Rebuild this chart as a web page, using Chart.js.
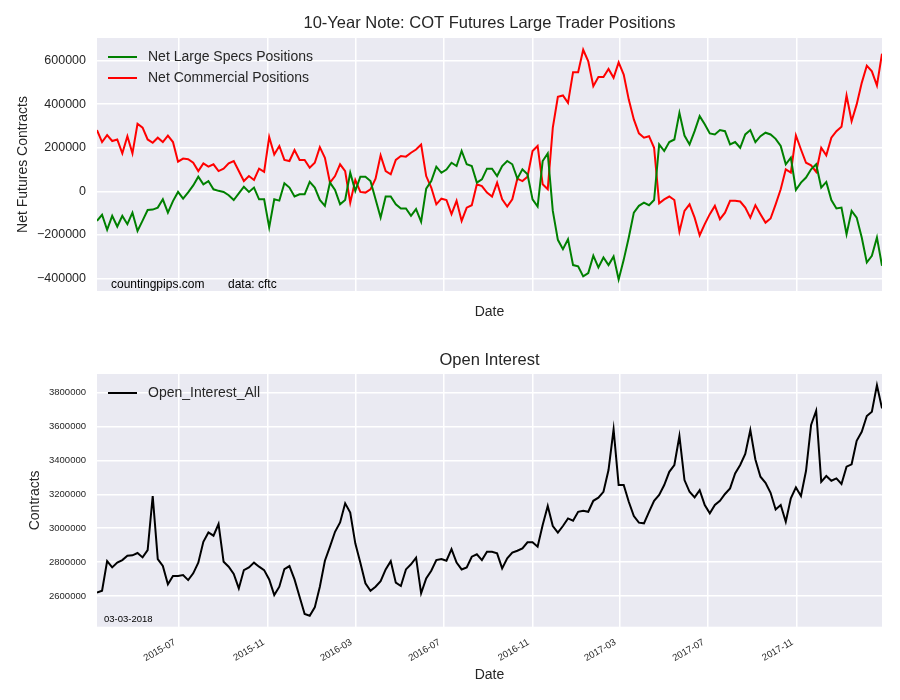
<!DOCTYPE html>
<html lang="en">
<head>
<meta charset="UTF-8">
<title>10-Year Note: COT Futures Large Trader Positions</title>
<script src="https://cdn.jsdelivr.net/npm/chart.js@4.4.1/dist/chart.umd.min.js"></script>
<style>
  body { margin: 0; background: #fff; }
  #wrap { position: relative; width: 900px; height: 700px; }
  #topChart { position: absolute; left: 0; top: 0; }
  #bottomChart { position: absolute; left: 0; top: 335px; }
</style>
</head>
<body>
<div id="wrap">
  <canvas id="topChart" width="900" height="335"></canvas>
  <canvas id="bottomChart" width="900" height="365"></canvas>
</div>

<script>
// weekly COT reports, first Tuesday in the window
const firstReport = '2015-03-10';

const largeSpecs = [
  -136000, -108000, -177000, -113000, -162000, -113000, -151000, -98000, -182000, -135000,
  -86000, -84000, -75000, -37000, -98000, -45000, -3000, -34000, -5000, 27000,
  67000, 32000, 47000, 9000, 2000, -3000, -18000, -40000, -10000, 21000,
  -3000, 17000, -37000, -37000, -166000, -37000, -43000, 37000, 17000, -24000,
  -14000, -14000, 43000, 17000, -40000, -67000, 40000, 6000, -60000, -40000,
  85000, 2000, 67000, 67000, 47000, -37000, -121000, -24000, -24000, -60000,
  -79000, -79000, -113000, -82000, -140000, 12000, 47000, 113000, 85000, 100000,
  131000, 116000, 185000, 124000, 116000, 40000, 55000, 104000, 104000, 70000,
  116000, 139000, 124000, 58000, 101000, 78000, -37000, -70000, 139000, 174000,
  -90000, -223000, -266000, -220000, -339000, -345000, -391000, -376000, -296000, -350000,
  -304000, -339000, -299000, -405000, -315000, -212000, -98000, -67000, -52000, -64000,
  -40000, 215000, 185000, 226000, 238000, 360000, 256000, 215000, 276000, 345000,
  308000, 266000, 261000, 281000, 276000, 215000, 226000, 200000, 261000, 281000,
  226000, 253000, 269000, 261000, 241000, 208000, 124000, 154000, 6000, 40000,
  63000, 101000, 124000, 17000, 43000, -40000, -79000, -75000, -197000, -90000,
  -121000, -212000, -327000, -296000, -212000, -342000
];

const commercials = [
  281000, 226000, 258000, 231000, 238000, 174000, 253000, 174000, 310000, 292000,
  238000, 223000, 246000, 226000, 256000, 226000, 136000, 150000, 147000, 131000,
  93000, 128000, 113000, 124000, 93000, 104000, 128000, 139000, 93000, 47000,
  70000, 52000, 104000, 89000, 249000, 169000, 208000, 144000, 139000, 189000,
  144000, 144000, 108000, 131000, 203000, 154000, 40000, 70000, 124000, 93000,
  -52000, 52000, -3000, -6000, 9000, 58000, 165000, 93000, 78000, 144000,
  162000, 159000, 177000, 192000, 215000, 70000, 17000, -60000, -34000, -40000,
  -105000, -44000, -136000, -75000, -64000, 32000, 24000, -6000, -24000, 40000,
  -37000, -70000, -37000, 58000, 47000, 67000, 185000, 208000, 32000, 9000,
  292000, 434000, 440000, 406000, 547000, 547000, 650000, 597000, 483000, 525000,
  525000, 562000, 521000, 592000, 536000, 421000, 330000, 266000, 246000, 253000,
  200000, -55000, -37000, -24000, -40000, -186000, -90000, -60000, -121000, -202000,
  -151000, -105000, -67000, -128000, -98000, -44000, -44000, -47000, -75000, -121000,
  -64000, -105000, -144000, -125000, -60000, 9000, 101000, 86000, 257000, 192000,
  131000, 119000, 89000, 200000, 165000, 246000, 276000, 296000, 440000, 322000,
  399000, 498000, 577000, 551000, 486000, 632000
];

const openInterest = [
  2620000, 2631000, 2806000, 2769000, 2797000, 2812000, 2838000, 2840000, 2854000, 2828000,
  2871000, 3190000, 2818000, 2777000, 2669000, 2718000, 2718000, 2724000, 2694000, 2734000,
  2797000, 2920000, 2975000, 2956000, 3025000, 2802000, 2773000, 2730000, 2645000, 2753000,
  2769000, 2797000, 2773000, 2753000, 2698000, 2606000, 2655000, 2759000, 2777000, 2698000,
  2596000, 2494000, 2484000, 2533000, 2655000, 2808000, 2891000, 2979000, 3034000, 3147000,
  3092000, 2911000, 2797000, 2675000, 2631000, 2655000, 2688000, 2757000, 2806000, 2679000,
  2659000, 2757000, 2787000, 2826000, 2616000, 2704000, 2749000, 2812000, 2818000, 2808000,
  2877000, 2797000, 2757000, 2769000, 2832000, 2846000, 2812000, 2861000, 2861000, 2852000,
  2763000, 2822000, 2856000, 2867000, 2881000, 2917000, 2917000, 2891000, 3019000, 3131000,
  3013000, 2974000, 3013000, 3058000, 3044000, 3097000, 3103000, 3097000, 3162000, 3180000,
  3215000, 3343000, 3583000, 3255000, 3255000, 3156000, 3072000, 3033000, 3029000, 3097000,
  3162000, 3196000, 3255000, 3333000, 3373000, 3544000, 3284000, 3215000, 3182000, 3225000,
  3137000, 3088000, 3137000, 3162000, 3202000, 3235000, 3323000, 3373000, 3438000, 3579000,
  3406000, 3304000, 3268000, 3209000, 3111000, 3137000, 3038000, 3176000, 3241000, 3190000,
  3339000, 3609000, 3693000, 3274000, 3308000, 3280000, 3294000, 3261000, 3363000, 3377000,
  3516000, 3569000, 3662000, 3687000, 3844000, 3707000
];

const xTickLabels = ['2015-07', '2015-11', '2016-03', '2016-07', '2016-11', '2017-03', '2017-07', '2017-11'];
const topYTicks = [-400000, -200000, 0, 200000, 400000, 600000];
const bottomYTicks = [2600000, 2800000, 3000000, 3200000, 3400000, 3600000, 3800000];

const FONT = '"Liberation Sans", Arial, sans-serif';
const TEXT = '#262626';
Chart.defaults.font.family = FONT;
Chart.defaults.color = TEXT;

function dayNum(s) {
  const [y, m, d] = s.split('-').map(Number);
  return Date.UTC(y, m - 1, d || 1) / 86400000;
}

const reportDays = largeSpecs.map((_, i) => dayNum(firstReport) + 7 * i);
const monthTicks = xTickLabels.map(dayNum);

function fmt(v) {
  return (v < 0 ? '\u2212' : '') + Math.abs(v);
}

const plotBackground = {
  id: 'plotBackground',
  beforeDraw(chart) {
    const { ctx, chartArea: a } = chart;
    ctx.save();
    ctx.fillStyle = '#EAEAF2';
    ctx.fillRect(a.left, a.top, a.right - a.left, a.bottom - a.top);
    ctx.restore();
  }
};

// legend drawn inside the plot, top-left like matplotlib
const insideLegend = {
  id: 'insideLegend',
  afterDatasetsDraw(chart) {
    const { ctx, chartArea: a } = chart;
    ctx.save();
    ctx.font = '14px ' + FONT;
    ctx.textBaseline = 'middle';
    chart.data.datasets.forEach((ds, i) => {
      const y = a.top + 19 + i * 21;
      ctx.strokeStyle = ds.borderColor;
      ctx.lineWidth = ds.borderWidth;
      ctx.beginPath();
      ctx.moveTo(a.left + 11, y);
      ctx.lineTo(a.left + 40, y);
      ctx.stroke();
      ctx.fillStyle = TEXT;
      ctx.fillText(ds.label, a.left + 51, y);
    });
    ctx.restore();
  }
};

const notes = {
  id: 'notes',
  afterDraw(chart, args, opts) {
    const { ctx } = chart;
    ctx.save();
    ctx.fillStyle = '#000';
    ctx.textBaseline = 'middle';
    (opts.items || []).forEach(n => {
      ctx.font = n.size + 'px ' + FONT;
      ctx.fillText(n.text, n.x, n.y);
    });
    ctx.restore();
  }
};

function xScale(showLabels, height, titlePad) {
  return {
    type: 'linear',
    min: reportDays[0],
    max: reportDays[reportDays.length - 1],
    afterBuildTicks: s => { s.ticks = monthTicks.map(v => ({ value: v })); },
    afterFit: s => { s.height = height; },
    grid: { color: '#fff', lineWidth: 1.5, drawTicks: false },
    border: { display: false },
    ticks: {
      display: showLabels, autoSkip: false, minRotation: 30, maxRotation: 30,
      padding: 10, labelOffset: -4, font: { size: 9.5 }, color: TEXT,
      callback: (v, i) => xTickLabels[i]
    },
    title: { display: true, text: 'Date', font: { size: 14 }, color: TEXT, padding: { top: 0, bottom: titlePad } }
  };
}

function yScale(ticksList, min, max, tickSize, titleText, titlePad) {
  return {
    min: min,
    max: max,
    afterBuildTicks: s => { s.ticks = ticksList.map(v => ({ value: v })); },
    afterFit: s => { s.width = 97; },
    grid: { color: '#fff', lineWidth: 1.5, drawTicks: false },
    border: { display: false },
    ticks: { padding: 11, font: { size: tickSize }, color: TEXT, callback: v => fmt(v) },
    title: { display: true, text: titleText, font: { size: 14 }, color: TEXT, padding: { top: titlePad, bottom: 0 } }
  };
}

function series(label, values, color) {
  return {
    label: label,
    data: values.map((v, i) => ({ x: reportDays[i], y: v })),
    borderColor: color,
    borderWidth: 2,
    pointRadius: 0,
    tension: 0,
    fill: false
  };
}

new Chart(document.getElementById('topChart'), {
  type: 'line',
  data: {
    datasets: [
      series('Net Large Specs Positions', largeSpecs, 'green'),
      series('Net Commercial Positions', commercials, 'red')
    ]
  },
  options: {
    responsive: false,
    animation: false,
    layout: { padding: { left: 0, right: 18, top: 0, bottom: 0 } },
    scales: {
      x: xScale(false, 44, 14.6),
      y: yScale(topYTicks, -458000, 704000, 12.5, 'Net Futures Contracts', 14.6)
    },
    plugins: {
      legend: { display: false },
      tooltip: { enabled: false },
      title: {
        display: true,
        fullSize: false,
        text: '10-Year Note: COT Futures Large Trader Positions',
        font: { size: 16.5, weight: 'normal' },
        color: TEXT,
        padding: { top: 13.1, bottom: 5.1 }
      },
      notes: {
        items: [
          { text: 'countingpips.com', x: 111, y: 285, size: 12 },
          { text: 'data: cftc', x: 228, y: 285, size: 12 }
        ]
      }
    }
  },
  plugins: [plotBackground, insideLegend, notes]
});

new Chart(document.getElementById('bottomChart'), {
  type: 'line',
  data: {
    datasets: [
      series('Open_Interest_All', openInterest, 'black')
    ]
  },
  options: {
    responsive: false,
    animation: false,
    layout: { padding: { left: 0, right: 18, top: 0, bottom: 0 } },
    scales: {
      x: xScale(true, 73.3, 16.6),
      y: yScale(bottomYTicks, 2419000, 3910000, 9.5, 'Contracts', 26.6)
    },
    plugins: {
      legend: { display: false },
      tooltip: { enabled: false },
      title: {
        display: true,
        fullSize: false,
        text: 'Open Interest',
        font: { size: 16.5, weight: 'normal' },
        color: TEXT,
        padding: { top: 15.1, bottom: 4.1 }
      },
      notes: {
        items: [
          { text: '03-03-2018', x: 104, y: 284, size: 9.5 }
        ]
      }
    }
  },
  plugins: [plotBackground, insideLegend, notes]
});
</script>
</body>
</html>
